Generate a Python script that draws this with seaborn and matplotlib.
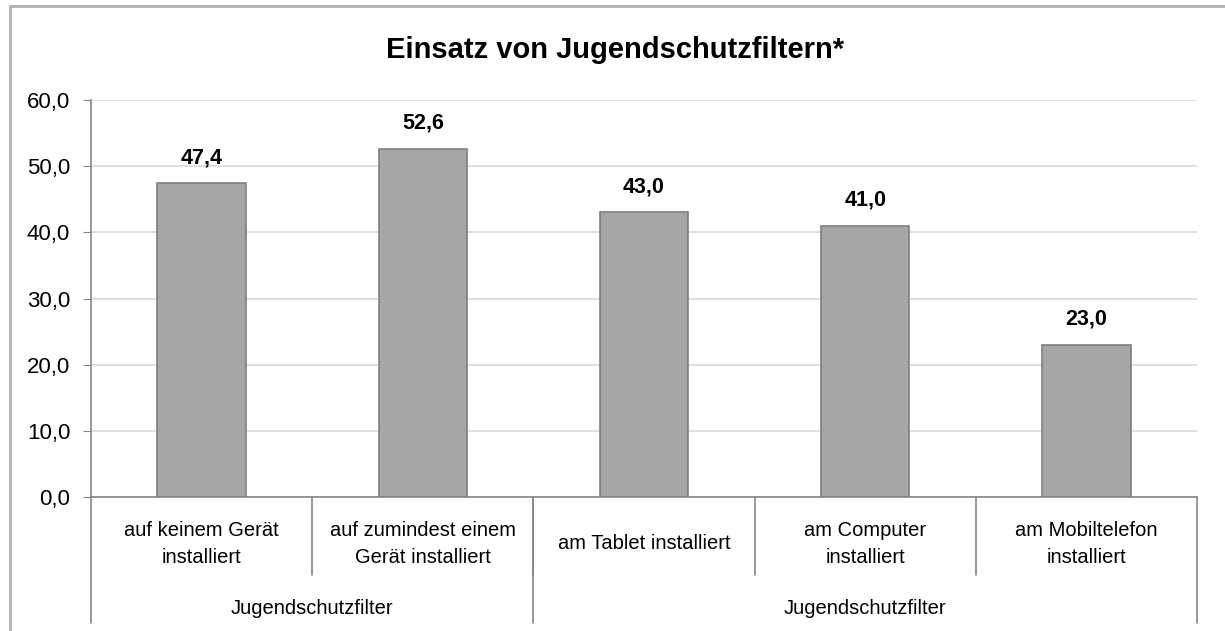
import matplotlib
matplotlib.use("Agg")
import matplotlib.pyplot as plt
import matplotlib.transforms as mtransforms
from matplotlib import font_manager
from matplotlib.patches import Rectangle
import seaborn as sns
import pandas as pd

# Daten
kategorien = [
    "auf keinem Gerät\ninstalliert",
    "auf zumindest einem\nGerät installiert",
    "am Tablet installiert",
    "am Computer\ninstalliert",
    "am Mobiltelefon\ninstalliert",
]
werte = [47.4, 52.6, 43.0, 41.0, 23.0]
gruppen = ["Jugendschutzfilter", "Jugendschutzfilter"]
gruppen_grenzen = [(0, 2), (2, 5)]
y_ticks = [0, 10, 20, 30, 40, 50, 60]

sns.set_style("white")
namen = {f.name for f in font_manager.fontManager.ttflist}
schrift = "Liberation Sans Narrow" if "Liberation Sans Narrow" in namen else "Liberation Sans"
plt.rcParams["font.family"] = [schrift, "DejaVu Sans"]
plt.rcParams["text.color"] = "black"
plt.rcParams["ytick.labelcolor"] = "black"

df = pd.DataFrame({"kategorie": kategorien, "wert": werte})

fig = plt.figure(figsize=(12.25, 6.31), dpi=100)
ax = fig.add_axes([91 / 1225, 1 - 497 / 631, (1197 - 91) / 1225, 397 / 631])

sns.barplot(data=df, x="kategorie", y="wert", ax=ax, width=0.4,
            color="#a6a6a6", edgecolor="#7f7f7f", linewidth=1.2, saturation=1)

ax.set_ylim(0, 60)
ax.set_xlim(-0.5, len(kategorien) - 0.5)
ax.set_yticks(y_ticks)
ax.set_yticklabels([f"{t:.1f}".replace(".", ",") for t in y_ticks],
                   fontsize=16, color="black")
ax.yaxis.grid(True, color="#d9d9d9", linewidth=1.2)
ax.set_axisbelow(True)
ax.tick_params(axis="y", length=6, color="#868686", pad=9, left=True)
ax.set_xticks([])
ax.set_xlabel("")
ax.set_ylabel("")
for s in ["top", "right"]:
    ax.spines[s].set_visible(False)
for s in ["left", "bottom"]:
    ax.spines[s].set_color("#868686")
    ax.spines[s].set_linewidth(1.2)

# Werte über den Balken
for i, w in enumerate(werte):
    ax.annotate(f"{w:.1f}".replace(".", ","), (i, w), xytext=(0, 11),
                textcoords="offset points", ha="center", va="bottom",
                fontsize=15.5, fontweight="bold")

# Mehrstufige Achsenbeschriftung
trans = mtransforms.blended_transform_factory(ax.transData, ax.transAxes)
for i, k in enumerate(kategorien):
    ax.text(i, -0.118, k, transform=trans, ha="center", va="center",
            fontsize=14.5, linespacing=1.55)
for i in range(1, len(kategorien)):
    ax.plot([i - 0.5, i - 0.5], [0, -0.196], transform=trans,
            color="#868686", linewidth=1.2, clip_on=False)
for (a, b), g in zip(gruppen_grenzen, gruppen):
    ax.text((a + b - 1) / 2, -0.28, g, transform=trans, ha="center",
            va="center", fontsize=14.5)
for x in [0, 2, 5]:
    ax.plot([x - 0.5, x - 0.5], [0, -0.317], transform=trans,
            color="#868686", linewidth=1.2, clip_on=False)

fig.text(615 / 1225, 1 - 50 / 631, "Einsatz von Jugendschutzfiltern*",
         ha="center", va="center", fontsize=21, fontweight="bold")

# Rahmen
fig.patches.append(Rectangle((10 / 1225, -0.1), 1.2, 1 - 6 / 631 + 0.1,
                             transform=fig.transFigure, fill=False,
                             edgecolor="#b0b0b0", linewidth=2))

fig.savefig("out.png", dpi=100)
